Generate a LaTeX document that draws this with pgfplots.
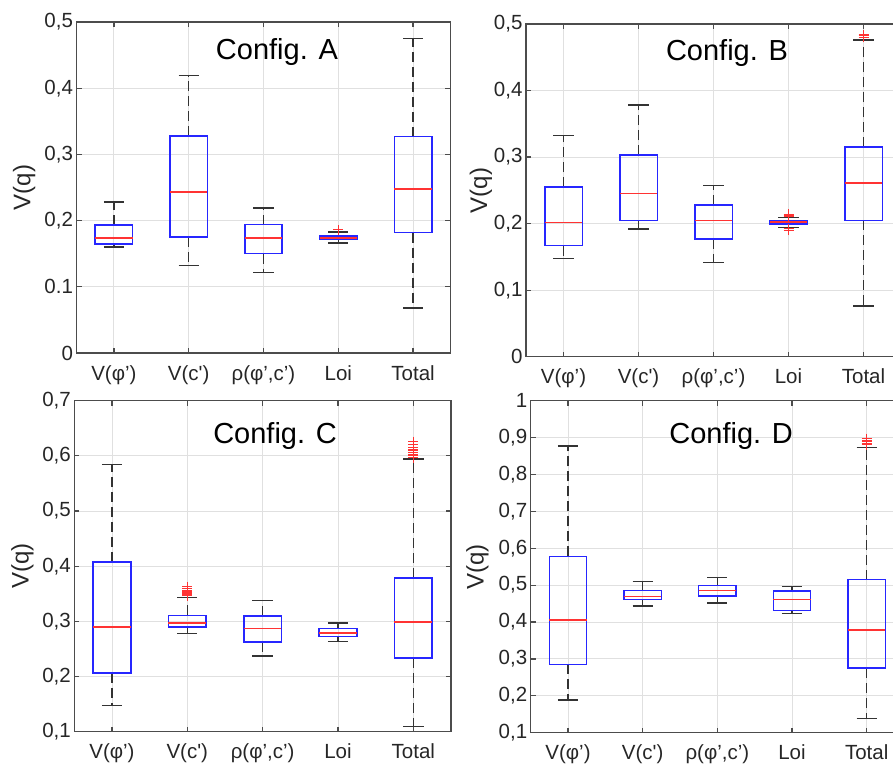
\documentclass[border=0pt]{standalone}
\usepackage{fontspec}
\setmainfont{Liberation Sans}[Ligatures=TeXOff]
\usepackage{pgfplots}
\pgfplotsset{compat=1.18}
\usepgfplotslibrary{statistics}
\definecolor{axgray}{gray}{0.3}
\definecolor{grd}{gray}{0.88}
\definecolor{bblue}{rgb}{0.15,0.15,1}
\definecolor{rred}{rgb}{1,0.2,0.2}
\definecolor{wsk}{gray}{0.2}
\newcommand{\bx}[7]{\addplot[rred, mark=+, mark size=5pt, mark options={line width=1pt, solid},
  boxplot prepared={draw position=#1, lower whisker=#2, lower quartile=#3, median=#4, upper quartile=#5, upper whisker=#6}] coordinates {#7};}
\pgfplotsset{
 mybox/.style={
   scale only axis,
   xmin=0.5, xmax=5.5, xtick={1,2,3,4,5},
   xticklabels={{V(φ’)},{V(c')},{ρ(φ’,c’)},{Loi},{Total}},
   xmajorgrids, ymajorgrids,
   major grid style={grd, line width=0.9pt},
   axis line style={axgray, line width=1.3pt},
   every tick/.style={axgray, line width=1.2pt},
   tick align=inside, major tick length=5pt,
   tick label style={font=\fontsize{20.5}{24}\selectfont, text=black!85},
   xticklabel style={anchor=base, yshift=-27pt},
   ylabel={V(q)},
   ylabel style={font=\fontsize{24}{28}\selectfont, text=black!85, anchor=center},
   boxplot/draw direction=y,
   boxplot/box extend=0.5,
   boxplot/whisker extend=0.27,
   boxplot/every box/.style={draw=bblue, line width=1.5pt, solid},
   boxplot/every median/.style={draw=rred, line width=1.4pt, solid},
   boxplot/draw/lower whisker/.code={%
     \draw[wsk, line width=1.4pt, dash pattern=on 10pt off 5pt]
       (boxplot cs:\pgfplotsboxplotvalue{lower quartile}) -- (boxplot cs:\pgfplotsboxplotvalue{lower whisker});
     \draw[wsk, line width=1.4pt]
       (boxplot whisker cs:\pgfplotsboxplotvalue{lower whisker},0) -- (boxplot whisker cs:\pgfplotsboxplotvalue{lower whisker},1);
   },
   boxplot/draw/upper whisker/.code={%
     \draw[wsk, line width=1.4pt, dash pattern=on 10pt off 5pt]
       (boxplot cs:\pgfplotsboxplotvalue{upper quartile}) -- (boxplot cs:\pgfplotsboxplotvalue{upper whisker});
     \draw[wsk, line width=1.4pt]
       (boxplot whisker cs:\pgfplotsboxplotvalue{upper whisker},0) -- (boxplot whisker cs:\pgfplotsboxplotvalue{upper whisker},1);
   },
 }
}
\begin{document}
\begin{tikzpicture}
% ---------- Config. A ----------
\begin{axis}[mybox, at={(76.5pt,411pt)}, anchor=south west, width=374pt, height=331pt,
  ymin=0, ymax=0.5, ytick={0,0.1,0.2,0.3,0.4,0.5},
  yticklabels={0,0.1,{0,2},{0,3},{0,4},{0,5}},
  ylabel style={at={(axis description cs:-0.140,0.5)}}]
\bx{1}{0.160}{0.165}{0.174}{0.193}{0.228}{}
\bx{2}{0.132}{0.175}{0.243}{0.328}{0.419}{}
\bx{3}{0.122}{0.150}{0.174}{0.194}{0.219}{}
\bx{4}{0.166}{0.172}{0.174}{0.177}{0.183}{(4,0.186)}
\bx{5}{0.068}{0.182}{0.248}{0.327}{0.475}{}
\node[font=\fontsize{29}{34}\selectfont, anchor=base] at (rel axis cs:0.536,0.887) {Config. A};
\end{axis}
% ---------- Config. B ----------
\begin{axis}[mybox, at={(526pt,407.3pt)}, anchor=south west, width=375pt, height=332.7pt,
  ymin=0, ymax=0.5, ytick={0,0.1,0.2,0.3,0.4,0.5},
  yticklabels={0,{0,1},{0,2},{0,3},{0,4},{0,5}},
  ylabel style={at={(axis description cs:-0.1205,0.5)}}]
\bx{1}{0.148}{0.167}{0.202}{0.255}{0.332}{}
\bx{2}{0.192}{0.205}{0.245}{0.303}{0.378}{}
\bx{3}{0.142}{0.177}{0.205}{0.228}{0.257}{}
\bx{4}{0.1945}{0.1995}{0.2025}{0.2045}{0.2095}{(4,0.214) (4,0.212) (4,0.211) (4,0.192) (4,0.190)}
\bx{5}{0.076}{0.205}{0.261}{0.315}{0.476}{(5,0.480) (5,0.482) (5,0.484)}
\node[font=\fontsize{29}{34}\selectfont, anchor=base] at (rel axis cs:0.536,0.890) {Config. B};
\end{axis}
% ---------- Config. C ----------
\begin{axis}[mybox, at={(74.3pt,32.3pt)}, anchor=south west, width=376.7pt, height=331pt,
  ymin=0.1, ymax=0.7, ytick={0.1,0.2,0.3,0.4,0.5,0.6,0.7},
  yticklabels={{0,1},{0,2},{0,3},{0,4},{0,5},{0,6},{0,7}},
  ylabel style={at={(axis description cs:-0.1375,0.5)}}]
\bx{1}{0.147}{0.206}{0.290}{0.4075}{0.584}{}
\bx{2}{0.278}{0.290}{0.297}{0.311}{0.343}{(2,0.346) (2,0.348) (2,0.350) (2,0.352) (2,0.354) (2,0.356) (2,0.359) (2,0.363)}
\bx{3}{0.237}{0.263}{0.287}{0.310}{0.338}{}
\bx{4}{0.263}{0.273}{0.279}{0.287}{0.297}{}
\bx{5}{0.109}{0.234}{0.299}{0.379}{0.594}{(5,0.597) (5,0.600) (5,0.603) (5,0.606) (5,0.609) (5,0.612) (5,0.616) (5,0.620) (5,0.626)}
\node[font=\fontsize{29}{34}\selectfont, anchor=base] at (rel axis cs:0.533,0.871) {Config. C};
\end{axis}
% ---------- Config. D ----------
\begin{axis}[mybox, at={(530.7pt,31.3pt)}, anchor=south west, width=373.3pt, height=332pt,
  ymin=0.1, ymax=1, ytick={0.1,0.2,0.3,0.4,0.5,0.6,0.7,0.8,0.9,1},
  yticklabels={{0,1},{0,2},{0,3},{0,4},{0,5},{0,6},{0,7},{0,8},{0,9},1},
  ylabel style={at={(axis description cs:-0.1425,0.5)}}]
\bx{1}{0.189}{0.285}{0.406}{0.578}{0.877}{}
\bx{2}{0.443}{0.461}{0.470}{0.486}{0.510}{}
\bx{3}{0.452}{0.471}{0.486}{0.499}{0.520}{}
\bx{4}{0.423}{0.431}{0.461}{0.484}{0.497}{}
\bx{5}{0.139}{0.275}{0.378}{0.515}{0.873}{(5,0.880) (5,0.885) (5,0.889) (5,0.893) (5,0.897)}
\node[font=\fontsize{29}{34}\selectfont, anchor=base] at (rel axis cs:0.537,0.871) {Config. D};
\end{axis}
\pgfresetboundingbox
\useasboundingbox (0pt,0pt) rectangle (893pt,764pt);
\end{tikzpicture}
\end{document}
